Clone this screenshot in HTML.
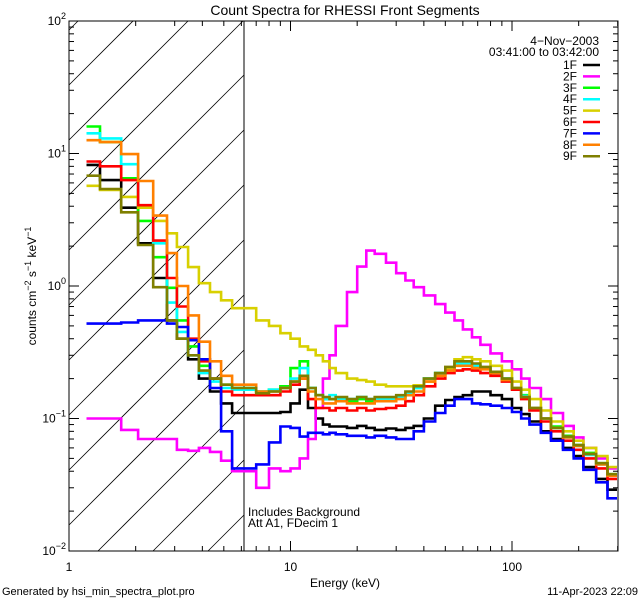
<!DOCTYPE html>
<html><head><meta charset="utf-8"><style>
html,body{margin:0;padding:0;background:#fff;width:640px;height:600px;overflow:hidden;}
svg{display:block;font-family:"Liberation Sans",sans-serif;}
</style></head><body>
<svg id="chart" width="640" height="600" viewBox="0 0 640 600" xmlns="http://www.w3.org/2000/svg">
<rect x="0" y="0" width="640" height="600" fill="#fff"/>
<defs><clipPath id="plotclip"><rect x="69" y="21" width="549" height="530"/></clipPath></defs>
<text x="345" y="15" font-size="14" text-anchor="middle">Count Spectra for RHESSI Front Segments</text>
<g id="hatch"></g>
<line x1="244" y1="21" x2="244" y2="551" stroke="#000" stroke-width="1"/>
<g id="series" clip-path="url(#plotclip)"></g>
<g id="axes"></g>
<text x="345" y="587" font-size="12" text-anchor="middle">Energy (keV)</text>
<text transform="translate(36,286) rotate(-90)" font-size="12" text-anchor="middle">counts cm<tspan dy="-5" font-size="9">−2</tspan><tspan dy="5"> s</tspan><tspan dy="-5" font-size="9">−1</tspan><tspan dy="5"> keV</tspan><tspan dy="-5" font-size="9">−1</tspan></text>
<text x="248" y="516" font-size="12">Includes Background</text>
<text x="248" y="527" font-size="12">Att A1, FDecim 1</text>
<text x="599" y="45" font-size="12" text-anchor="end">4−Nov−2003</text>
<text x="599" y="56" font-size="12" text-anchor="end">03:41:00 to 03:42:00</text>
<g id="legend"></g>
<text x="2" y="595" font-size="11">Generated by hsi_min_spectra_plot.pro</text>
<text x="638" y="595" font-size="11" text-anchor="end">11-Apr-2023 22:09</text>
</svg>
<script>
const energyEdges=[1.2,1.38,1.72,2.05,2.4,2.77,3.07,3.45,3.86,4.33,4.86,5.45,7,8,9,10,11,12,13,14,15,16,18,20,22,24,27,30,33,36,40,45,50,55,60,66,72,80,90,100,110,120,135,150,170,190,210,240,270,300];
const labels=["1F","2F","3F","4F","5F","6F","7F","8F","9F"];
const colors=["#000000","#ff00ff","#00ff00","#00ffff","#d8d000","#ff0000","#0000ff","#ff8000","#7f7f00"];
const s1F=[8.2,6.3,3.9,2.1,1.15,0.55,0.4,0.28,0.2,0.16,0.13,0.11, 0.11,0.11,0.112,0.13,0.165,0.12,0.1,0.09,0.087,0.087,0.085,0.088,0.085,0.082,0.084,0.082,0.085,0.088, 0.1,0.125,0.138,0.145,0.15,0.16,0.16,0.15,0.14,0.12,0.108,0.095,0.08,0.07,0.06,0.052,0.043,0.035,0.029];
const s2F=[0.1,0.1,0.082,0.07,0.07,0.07,0.058,0.057,0.06,0.056,0.048,0.04, 0.03,0.042,0.04,0.042,0.05,0.07,0.12,0.2,0.3,0.5,0.9,1.4,1.85,1.75,1.5,1.25,1.1,0.98, 0.85,0.73,0.63,0.55,0.47,0.41,0.36,0.31,0.27,0.235,0.2,0.17,0.14,0.11,0.088,0.072,0.06,0.05,0.042];
const s3F=[16,12.2,6.5,3.1,1.65,0.97,0.55,0.35,0.25,0.2,0.18,0.17, 0.16,0.165,0.175,0.24,0.27,0.17,0.15,0.14,0.14,0.14,0.135,0.14,0.135,0.14,0.14,0.145,0.155,0.17, 0.2,0.22,0.24,0.26,0.26,0.25,0.24,0.225,0.2,0.17,0.15,0.12,0.1,0.087,0.074,0.063,0.055,0.046,0.038];
const s4F=[14.2,13,8.3,4.0,2.1,0.75,0.45,0.3,0.22,0.19,0.17,0.165, 0.16,0.165,0.17,0.2,0.24,0.17,0.15,0.14,0.15,0.14,0.14,0.145,0.14,0.14,0.14,0.145,0.155,0.17, 0.2,0.22,0.24,0.26,0.26,0.25,0.24,0.22,0.2,0.17,0.148,0.12,0.1,0.085,0.072,0.062,0.053,0.045,0.037];
const s5F=[5.7,5.3,4.7,3.9,3.1,2.5,1.97,1.39,1.05,0.9,0.78,0.68, 0.55,0.5,0.44,0.4,0.35,0.33,0.3,0.27,0.24,0.22,0.2,0.195,0.19,0.18,0.175,0.175,0.175,0.178, 0.19,0.21,0.24,0.28,0.29,0.28,0.27,0.25,0.23,0.19,0.165,0.14,0.115,0.095,0.08,0.068,0.06,0.052,0.043];
const s6F=[8.7,8.0,6.3,4.07,2.2,1.15,0.7,0.4,0.27,0.2,0.16,0.15, 0.15,0.15,0.16,0.18,0.2,0.14,0.12,0.12,0.115,0.12,0.115,0.12,0.115,0.118,0.12,0.125,0.135,0.15, 0.175,0.2,0.22,0.23,0.235,0.23,0.22,0.21,0.19,0.165,0.14,0.115,0.095,0.08,0.068,0.058,0.05,0.042,0.035];
const s7F=[0.52,0.52,0.53,0.55,0.55,0.52,0.49,0.39,0.28,0.17,0.08,0.042, 0.045,0.066,0.087,0.085,0.073,0.078,0.078,0.076,0.078,0.076,0.074,0.074,0.072,0.074,0.072,0.07,0.07,0.08, 0.095,0.11,0.125,0.14,0.14,0.13,0.128,0.125,0.12,0.112,0.1,0.09,0.078,0.068,0.058,0.05,0.041,0.033,0.025];
const s8F=[12.6,12.2,9.9,6.2,3.4,1.77,1.0,0.6,0.38,0.27,0.21,0.18, 0.16,0.16,0.17,0.19,0.2,0.16,0.14,0.13,0.13,0.135,0.13,0.13,0.13,0.135,0.135,0.14,0.15,0.16, 0.19,0.21,0.23,0.25,0.25,0.24,0.235,0.22,0.195,0.17,0.145,0.12,0.1,0.085,0.072,0.062,0.054,0.045,0.037];
const s9F=[6.8,5.4,3.6,2.04,0.98,0.55,0.4,0.3,0.23,0.2,0.18,0.17, 0.155,0.16,0.17,0.19,0.21,0.17,0.15,0.145,0.14,0.145,0.14,0.145,0.14,0.145,0.145,0.15,0.16,0.175, 0.2,0.22,0.245,0.27,0.27,0.26,0.245,0.225,0.2,0.17,0.145,0.12,0.1,0.085,0.073,0.063,0.054,0.046,0.038];
const seriesValues=[s1F,s2F,s3F,s4F,s5F,s6F,s7F,s8F,s9F];
const yTickExps=[-2,-1,0,1,2];
const xTickLabels=["1","10","100"];

const NS="http://www.w3.org/2000/svg";
const X0=69,X1=618,Y0=551,Y1=21;
const xMin=1,xMax=Math.pow(10,(X1-X0)/221.5);
function xs(e){return X0+(Math.log10(e)-Math.log10(xMin))/(Math.log10(xMax)-Math.log10(xMin))*(X1-X0);}
function ys(v){return Y0-(Math.log10(v)+2)/4*(Y0-Y1);}
function mk(tag,attrs,parent){const e=document.createElementNS(NS,tag);for(const k in attrs)e.setAttribute(k,attrs[k]);parent.appendChild(e);return e;}

const hatch=document.getElementById('hatch');
const HX0=69,HX1=244;
for(let k=-12;k<16;k++){
  const y0=140+k*55;
  let xa=HX0,ya=y0;
  if(ya>Y0){xa=HX0+(ya-Y0);ya=Y0;}
  let xb=HX1,yb=y0-(HX1-HX0);
  if(yb<Y1){xb=HX0+(y0-Y1);yb=Y1;}
  if(xa>=HX1||xb<=HX0||ya<=Y1||xb<=xa)continue;
  const l=mk('line',{x1:xa,y1:ya,x2:xb,y2:yb,stroke:'#000','stroke-width':0.8},hatch);
  
  
}

const sg=document.getElementById('series');
seriesValues.forEach((vals,si)=>{
  let d='';
  for(let i=0;i<vals.length;i++){
    const xa=xs(energyEdges[i]).toFixed(1),xb=Math.min(xs(energyEdges[i+1]),X1-1).toFixed(1),y=ys(vals[i]).toFixed(1);
    d+=(i===0?'M':'L')+xa+','+y+'L'+xb+','+y;
  }
  const p=mk('path',{d:d,fill:'none',stroke:colors[si],'stroke-width':2.6,'stroke-linejoin':'miter'},sg);
  
  
});

const ax=document.getElementById('axes');
const frame=mk('rect',{x:X0,y:Y1,width:X1-X0,height:Y0-Y1,fill:'none',stroke:'#000','stroke-width':1},ax);


for(let dec=0;dec<3;dec++){
  for(let m=1;m<10;m++){
    const e=Math.pow(10,dec)*m; if(e>xMax)break;
    const x=xs(e),len=m===1?10:5;
    mk('line',{x1:x,y1:Y0,x2:x,y2:Y0-len,stroke:'#000'},ax);
    mk('line',{x1:x,y1:Y1,x2:x,y2:Y1+len,stroke:'#000'},ax);
  }
}
xTickLabels.forEach((t,i)=>{
  const tx=mk('text',{x:xs(Math.pow(10,i)),y:571,'font-size':12,'text-anchor':'middle'},ax);
  tx.textContent=t;
  
  
});
for(let ex=-2;ex<2;ex++){
  for(let m=1;m<10;m++){
    const y=ys(Math.pow(10,ex)*m),len=m===1?10:5;
    mk('line',{x1:X0,y1:y,x2:X0+len,y2:y,stroke:'#000'},ax);
    mk('line',{x1:X1,y1:y,x2:X1-len,y2:y,stroke:'#000'},ax);
  }
}
yTickExps.forEach(ex=>{
  const y=ys(Math.pow(10,ex));
  const tx=mk('text',{x:66,y:y+4,'font-size':12,'text-anchor':'end'},ax);
  
  
  const a=document.createElementNS(NS,'tspan');a.textContent='10';tx.appendChild(a);
  const b=document.createElementNS(NS,'tspan');b.setAttribute('dy','-6');b.setAttribute('font-size','9');b.textContent=String(ex).replace('-','−');tx.appendChild(b);
});

const lg=document.getElementById('legend');
labels.forEach((lab,i)=>{
  const y=65+i*11.4;
  const g=mk('g',{},lg);
  
  
  const t=mk('text',{x:577,y:y+4,'font-size':12,'text-anchor':'end'},g);t.textContent=lab;
  mk('line',{x1:583,y1:y,x2:600,y2:y,stroke:colors[i],'stroke-width':2.5},g);
});
</script>
</body></html>
